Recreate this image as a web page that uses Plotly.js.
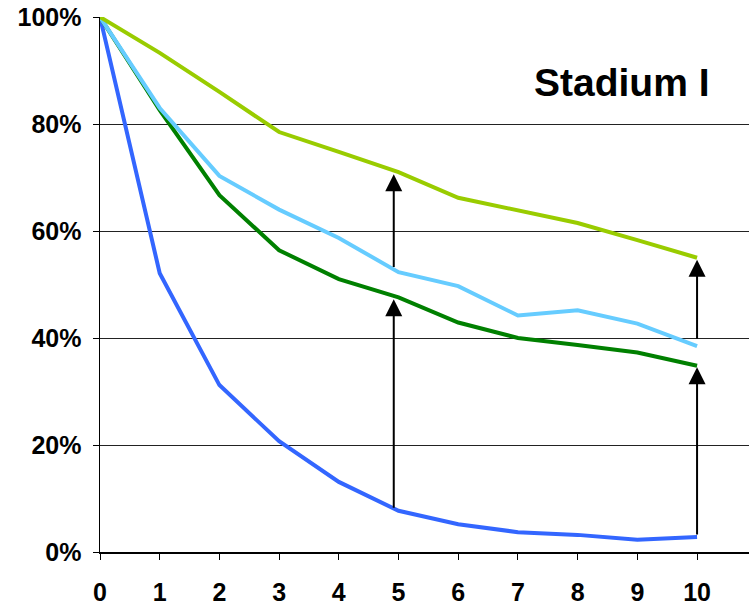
<!DOCTYPE html>
<html>
<head>
<meta charset="utf-8">
<script src="https://cdn.plot.ly/plotly-3.0.1.min.js"></script>
<style>html,body{margin:0;padding:0;background:#fff;}#chart{width:749px;height:605px;}</style>
</head>
<body>
<div id="chart"></div>
<script>
const years = [0, 1, 2, 3, 4, 5, 6, 7, 8, 9, 10];
const lightGreen = [100, 93.3, 86.0, 78.5, 74.8, 71.0, 66.2, 63.8, 61.5, 58.3, 55.0];
const lightBlue  = [100, 83.0, 70.3, 64.0, 58.7, 52.3, 49.7, 44.2, 45.2, 42.7, 38.5];
const darkGreen  = [100, 82.6, 66.7, 56.4, 51.0, 47.6, 42.9, 40.0, 38.7, 37.3, 34.8];
const blue       = [100, 52.1, 31.2, 20.7, 13.1, 7.7, 5.2, 3.7, 3.2, 2.3, 2.8];
const tickVals = [0, 20, 40, 60, 80, 100];
const tickText = ['0%', '20%', '40%', '60%', '80%', '100%'];
// arrows: [x, fromY, toY]
const arrows = [
  [4.92, 8.0, 47.6],
  [4.92, 53.0, 71.0],
  [10, 3.0, 34.9],
  [10, 39.6, 55.0]
];

const mk = (y, color) => ({x: years, y: y, type: 'scatter', mode: 'lines',
  line: {color: color, width: 4}, hoverinfo: 'skip', cliponaxis: false});

const data = [
  mk(blue, '#3366FF'),
  mk(darkGreen, '#008000'),
  mk(lightBlue, '#66CCFF'),
  mk(lightGreen, '#99CC00')
];

const annotations = arrows.map(a => ({
  x: a[0], y: a[2], ax: a[0], ay: a[1], xref: 'x', yref: 'y', axref: 'x', ayref: 'y',
  showarrow: true, arrowhead: 2, arrowsize: 1.7, arrowwidth: 2, arrowcolor: '#000',
  text: '', standoff: 2
}));
annotations.push({
  x: 0.804, y: 0.878, xref: 'paper', yref: 'paper', xanchor: 'center', yanchor: 'middle',
  text: '<b>Stadium I</b>', showarrow: false,
  font: {family: 'Liberation Sans, Arial, sans-serif', size: 39, color: '#000'}
});

const tf = {size: 25, family: 'Liberation Sans, Arial, sans-serif', weight: 'bold', color: '#000'};

const layout = {
  width: 749, height: 605,
  margin: {l: 100, r: 0, t: 17, b: 53},
  paper_bgcolor: '#fff', plot_bgcolor: '#fff',
  showlegend: false,
  font: {family: 'Liberation Sans, Arial, sans-serif', color: '#000'},
  xaxis: {
    range: [0, 10.87], tickvals: years, ticktext: years.map(String),
    showgrid: false, zeroline: false, showline: true, linecolor: '#000', linewidth: 1.5,
    ticks: 'outside', ticklen: 6, tickcolor: '#000', tickwidth: 1,
    tickfont: tf, ticklabelstandoff: 11
  },
  yaxis: {
    range: [0, 100], tickvals: tickVals, ticktext: tickText,
    showgrid: true, gridcolor: '#222', gridwidth: 1, zeroline: false,
    showline: true, linecolor: '#000', linewidth: 1.5,
    ticks: 'outside', ticklen: 6, tickcolor: '#000',
    tickfont: tf, ticklabelstandoff: 6
  },
  annotations: annotations
};

Plotly.newPlot('chart', data, layout, {displayModeBar: false, staticPlot: true});
</script>
</body>
</html>
